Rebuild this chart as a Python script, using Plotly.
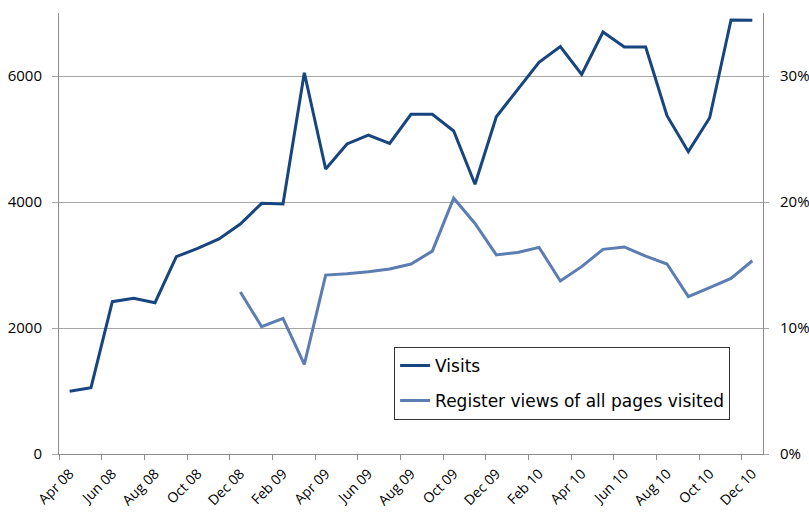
import plotly.graph_objects as go

months = ["Apr 08", "May 08", "Jun 08", "Jul 08", "Aug 08", "Sep 08", "Oct 08", "Nov 08",
          "Dec 08", "Jan 09", "Feb 09", "Mar 09", "Apr 09", "May 09", "Jun 09", "Jul 09",
          "Aug 09", "Sep 09", "Oct 09", "Nov 09", "Dec 09", "Jan 10", "Feb 10", "Mar 10",
          "Apr 10", "May 10", "Jun 10", "Jul 10", "Aug 10", "Sep 10", "Oct 10", "Nov 10",
          "Dec 10"]

visits = [995, 1052, 2418, 2471, 2402, 3132, 3265, 3413,
          3651, 3979, 3968, 6052, 4524, 4921, 5063, 4931,
          5392, 5392, 5127, 4281, 5354, 5788, 6217, 6466,
          6026, 6698, 6460, 6460, 5370, 4799, 5338, 6889,
          6883]

register_pct = [None, None, None, None, None, None, None, None,
                12.86, 10.1, 10.77, 7.12, 14.2, 14.3, 14.47, 14.68,
                15.08, 16.1, 20.3, 18.3, 15.8, 16.0, 16.4, 13.73,
                14.87, 16.24, 16.43, 15.7, 15.08, 12.49, 13.2, 13.94,
                15.34]

left_ticks = [0, 2000, 4000, 6000]
right_ticks = [0, 10, 20, 30]
right_labels = ["0%", "10%", "20%", "30%"]

visits_color = "#17457F"
register_color = "#5B7DB1"
axis_color = "#8C8C8C"
grid_color = "#A6A6A6"
font_family = "Open Sans, sans-serif"

fig = go.Figure()
fig.add_trace(go.Scatter(x=months, y=visits, name="Visits", mode="lines",
                         line=dict(color=visits_color, width=3), yaxis="y",
                         legendgroup="a"))
fig.add_trace(go.Scatter(x=months, y=register_pct, name="Register views of all pages visited",
                         mode="lines", line=dict(color=register_color, width=3), yaxis="y2",
                         legendgroup="b", connectgaps=False))

fig.update_layout(
    width=809, height=513,
    margin=dict(l=59, r=46, t=13, b=59),
    paper_bgcolor="white", plot_bgcolor="white",
    font=dict(family=font_family, color="#000000", size=14),
    showlegend=True,
    legend=dict(x=0.476, y=0.243, xanchor="left", yanchor="top",
                bordercolor="#333333", borderwidth=1, bgcolor="white",
                font=dict(size=17, family="DejaVu Sans, sans-serif"), itemwidth=30,
                tracegroupgap=10, traceorder="grouped"),
    xaxis=dict(type="category", range=[-0.5, 32.5], dtick=2, tickson="boundaries",
               ticks="outside", ticklen=5, tickcolor=axis_color, tickangle=-45,
               showline=True, linecolor=axis_color, linewidth=1, showgrid=False,
               tickfont=dict(size=14), automargin=False, ticklabelstandoff=5),
    yaxis=dict(range=[0, 7000], tickvals=left_ticks, ticks="outside", ticklen=6,
               tickcolor=grid_color, showline=True, linecolor=axis_color, linewidth=1,
               showgrid=True, gridcolor=grid_color, gridwidth=1, zeroline=False,
               tickfont=dict(size=15), automargin=False, ticklabelstandoff=7),
    yaxis2=dict(range=[0, 35], tickvals=right_ticks, ticktext=right_labels, overlaying="y",
                side="right", ticks="outside", ticklen=5, tickcolor=grid_color,
                showline=True, linecolor=axis_color, linewidth=1, showgrid=False,
                zeroline=False, tickfont=dict(size=15), automargin=False,
                ticklabelstandoff=8),
)

fig.write_html("out.html", config={"displayModeBar": False},
               post_script="document.body.style.margin='0px';")
